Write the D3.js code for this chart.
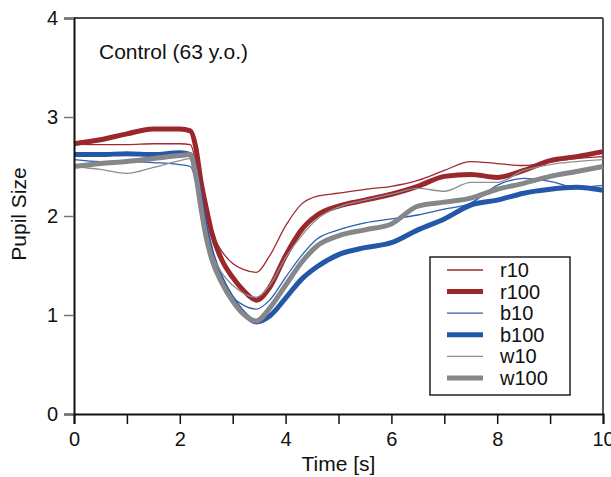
<!DOCTYPE html>
<html>
<head>
<meta charset="utf-8">
<title>Pupil Size - Control (63 y.o.)</title>
<style>
  body { margin: 0; background: #fff; }
  svg text { font-family: "Liberation Sans", Arial, sans-serif; fill: #111; }
</style>
</head>
<body>
<div id="chart"></div>
<script src="https://d3js.org/d3.v7.min.js"></script>
<script>
// time grid shared by all traces [s]
var times = [0, 0.5, 1.0, 1.5, 2.0, 2.2, 2.3, 2.4, 2.5, 2.6, 2.8, 3.0, 3.2, 3.45, 3.7, 4.0, 4.3, 4.6, 5.0, 5.5, 6.0, 6.5, 7.0, 7.5, 8.0, 8.5, 9.0, 9.5, 10.0];

var r10  = [2.73, 2.72, 2.72, 2.73, 2.73, 2.72, 2.55, 2.25, 2.02, 1.84, 1.64, 1.52, 1.46, 1.43, 1.60, 1.90, 2.12, 2.20, 2.23, 2.27, 2.30, 2.36, 2.46, 2.55, 2.53, 2.51, 2.55, 2.58, 2.60];
var r100 = [2.73, 2.77, 2.83, 2.88, 2.88, 2.86, 2.70, 2.35, 2.08, 1.84, 1.55, 1.38, 1.25, 1.15, 1.28, 1.60, 1.86, 2.01, 2.10, 2.16, 2.22, 2.30, 2.40, 2.42, 2.39, 2.46, 2.56, 2.60, 2.65];
var b10  = [2.57, 2.55, 2.55, 2.54, 2.52, 2.50, 2.35, 2.05, 1.77, 1.56, 1.32, 1.18, 1.10, 1.06, 1.15, 1.38, 1.60, 1.77, 1.86, 1.93, 1.97, 2.01, 2.07, 2.13, 2.31, 2.38, 2.35, 2.29, 2.31];
var b100 = [2.62, 2.62, 2.63, 2.62, 2.64, 2.62, 2.45, 2.15, 1.85, 1.63, 1.35, 1.16, 1.02, 0.93, 0.99, 1.17, 1.36, 1.49, 1.61, 1.68, 1.73, 1.86, 1.97, 2.11, 2.16, 2.23, 2.27, 2.29, 2.26];
var w10  = [2.50, 2.47, 2.43, 2.49, 2.56, 2.58, 2.42, 2.12, 1.85, 1.64, 1.42, 1.30, 1.22, 1.18, 1.30, 1.58, 1.80, 1.97, 2.09, 2.16, 2.22, 2.28, 2.25, 2.34, 2.34, 2.46, 2.52, 2.55, 2.57];
var w100 = [2.50, 2.53, 2.55, 2.58, 2.61, 2.62, 2.42, 2.08, 1.78, 1.57, 1.32, 1.14, 1.01, 0.94, 1.07, 1.30, 1.53, 1.70, 1.80, 1.86, 1.92, 2.10, 2.14, 2.18, 2.27, 2.33, 2.40, 2.45, 2.50];

var seriesNames = ["r10", "r100", "b10", "b100", "w10", "w100"];
var seriesValues = [r10, r100, b10, b100, w10, w100];
var seriesColors = ["#a0282e", "#9b262c", "#2a5fb0", "#2457a7", "#8e8f91", "#85878a"];
var seriesWidths = [1.3, 5, 1.3, 5, 1.3, 5];

var xTicks = [0, 1, 2, 3, 4, 5, 6, 7, 8, 9, 10];
var yTicks = [0, 1, 2, 3, 4];

var width = 611, height = 477;
var margin = {left: 74, right: 8, top: 18, bottom: 63};

var svg = d3.select("#chart").append("svg")
  .attr("width", width)
  .attr("height", height);

var x = d3.scaleLinear().domain([0, 10]).range([margin.left, width - margin.right]);
var y = d3.scaleLinear().domain([0, 4]).range([height - margin.bottom, margin.top]);

// frame top / right
svg.append("line")
  .attr("x1", x(0)).attr("x2", x(10)).attr("y1", y(4)).attr("y2", y(4))
  .attr("stroke", "#111").attr("stroke-width", 1.5);
svg.append("line")
  .attr("x1", x(10)).attr("x2", x(10)).attr("y1", y(4)).attr("y2", y(0))
  .attr("stroke", "#555").attr("stroke-width", 2);

// traces
var line = d3.line()
  .x(function(d){ return x(d[0]); })
  .y(function(d){ return y(d[1]); })
  .curve(d3.curveMonotoneX);

seriesValues.forEach(function(vals, i){
  var pts = times.map(function(t, j){ return [t, vals[j]]; });
  svg.append("path")
    .datum(pts)
    .attr("d", line)
    .attr("fill", "none")
    .attr("stroke", seriesColors[i])
    .attr("stroke-width", seriesWidths[i])
    .attr("stroke-linejoin", "round");
});

// y axis
var yAxis = svg.append("g")
  .attr("transform", "translate(" + x(0) + ",0)")
  .call(d3.axisLeft(y).tickValues(yTicks).tickFormat(d3.format("d")).tickSize(10).tickPadding(6));
yAxis.select(".domain").attr("stroke", "#111").attr("stroke-width", 2);
yAxis.selectAll(".tick line").attr("stroke", "#777").attr("stroke-width", 1.5);
yAxis.selectAll(".tick text").style("font-size", "20px");

// x axis
var xAxis = svg.append("g")
  .attr("transform", "translate(0," + y(0) + ")")
  .call(d3.axisBottom(x).tickValues(xTicks)
    .tickFormat(function(d){ return d % 2 === 0 ? d : ""; })
    .tickSize(10).tickPadding(8));
xAxis.select(".domain").attr("stroke", "#111").attr("stroke-width", 2);
xAxis.selectAll(".tick line").attr("stroke", "#111").attr("stroke-width", 1.5);
xAxis.selectAll(".tick text").style("font-size", "20px");

// labels
svg.append("text")
  .attr("x", (x(0) + x(10)) / 2).attr("y", 471)
  .attr("text-anchor", "middle")
  .style("font-size", "21px")
  .text("Time [s]");

svg.append("text")
  .attr("transform", "translate(26," + (y(2) - 2) + ") rotate(-90)")
  .attr("text-anchor", "middle")
  .style("font-size", "21px")
  .text("Pupil Size");

svg.append("text")
  .attr("x", 99).attr("y", 59)
  .style("font-size", "21px")
  .text("Control (63 y.o.)");

// legend
var legend = svg.append("g").attr("transform", "translate(430,257)");
legend.append("rect")
  .attr("width", 140).attr("height", 138)
  .attr("fill", "#fff").attr("stroke", "#222").attr("stroke-width", 1.5);

seriesNames.forEach(function(name, i){
  var ly = 13 + i * 21.6;
  legend.append("line")
    .attr("x1", 17).attr("x2", 53).attr("y1", ly).attr("y2", ly)
    .attr("stroke", seriesColors[i])
    .attr("stroke-width", seriesWidths[i]);
  legend.append("text")
    .attr("x", 70).attr("y", ly + 7)
    .style("font-size", "20px")
    .text(name);
});
</script>
</body>
</html>
